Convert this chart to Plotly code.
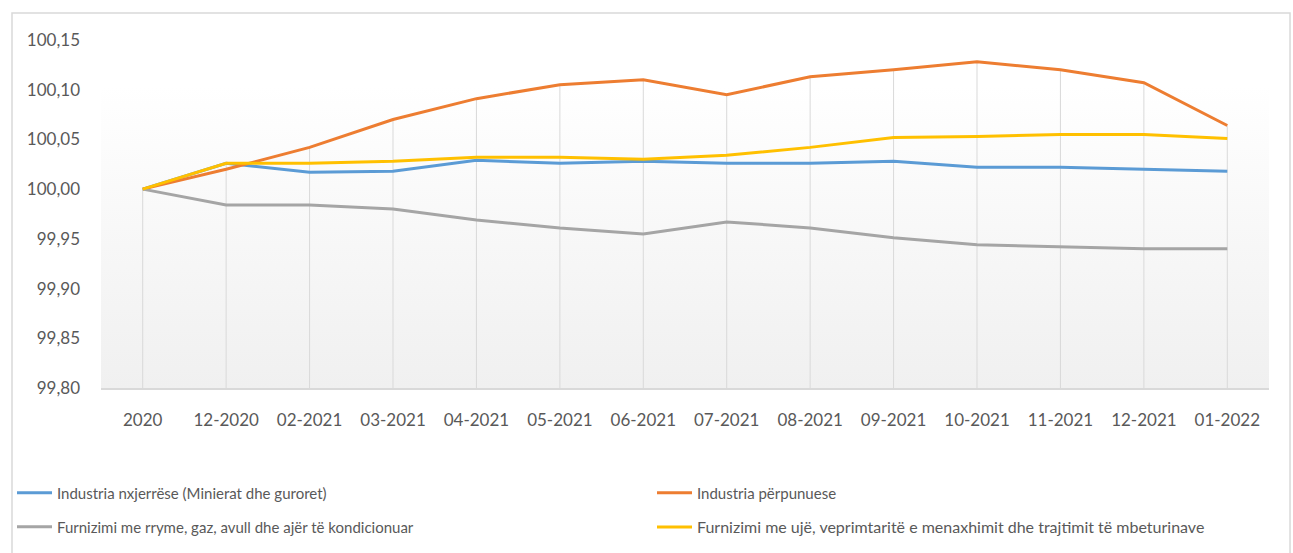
import base64
import plotly.graph_objects as go

categories = ["2020", "12-2020", "02-2021", "03-2021", "04-2021", "05-2021", "06-2021",
              "07-2021", "08-2021", "09-2021", "10-2021", "11-2021", "12-2021", "01-2022"]

names = [
    "Industria nxjerrëse (Minierat dhe guroret)",
    "Industria përpunuese",
    "Furnizimi me rryme, gaz, avull dhe ajër të kondicionuar",
    "Furnizimi me ujë, veprimtaritë e menaxhimit dhe trajtimit të mbeturinave",
]

nxjerrese = [100.000, 100.026, 100.017, 100.018, 100.029, 100.026, 100.028,
             100.026, 100.026, 100.028, 100.022, 100.022, 100.020, 100.018]
perpunuese = [100.000, 100.020, 100.042, 100.070, 100.091, 100.105, 100.110,
              100.095, 100.113, 100.120, 100.128, 100.120, 100.107, 100.064]
energji = [100.000, 99.984, 99.984, 99.980, 99.969, 99.961, 99.955,
           99.967, 99.961, 99.951, 99.944, 99.942, 99.940, 99.940]
uje = [100.000, 100.026, 100.026, 100.028, 100.032, 100.032, 100.030,
       100.034, 100.042, 100.052, 100.053, 100.055, 100.055, 100.051]

series = [nxjerrese, perpunuese, energji, uje]
colors = ["#5B9BD5", "#ED7D31", "#A5A5A5", "#FFC000"]

y_ticks = [99.80, 99.85, 99.90, 99.95, 100.00, 100.05, 100.10, 100.15]
y_min, y_max = 99.80, 100.15

FONT = "Lato, Carlito, Calibri, sans-serif"
TXT = "#595959"
W, H = 1293, 553

fig = go.Figure()

# drop lines (from highest series value down to the axis)
tops = [max(vals) for vals in zip(*series)]
fig.add_trace(go.Scatter(
    x=categories, y=tops, mode="markers", marker=dict(size=1, opacity=0),
    error_y=dict(type="data", symmetric=False, array=[0] * len(tops),
                 arrayminus=[t - y_min for t in tops], width=0,
                 color="#D9D9D9", thickness=1),
    showlegend=False, hoverinfo="skip"))

legend_ids = ["legend", "legend2", "legend3", "legend4"]
for name, vals, col, lg in zip(names, series, colors, legend_ids):
    fig.add_trace(go.Scatter(x=categories, y=vals, mode="lines", name=name,
                             line=dict(color=col, width=3), legend=lg))

# gradient background of plot area
svg = ('<svg xmlns="http://www.w3.org/2000/svg" width="100" height="100" preserveAspectRatio="none">'
       '<defs><linearGradient id="g" x1="0" y1="0" x2="0" y2="1">'
       '<stop offset="0" stop-color="#FFFFFF"/><stop offset="1" stop-color="#F0F0F0"/>'
       '</linearGradient></defs><rect width="100" height="100" fill="url(#g)"/></svg>')
uri = "data:image/svg+xml;base64," + base64.b64encode(svg.encode()).decode()
fig.add_layout_image(dict(source=uri, xref="paper", yref="paper", x=0, y=0.871,
                          sizex=1, sizey=0.871, xanchor="left", yanchor="top",
                          sizing="stretch", layer="below"))

# chart border
fig.add_shape(type="rect", xref="paper", yref="paper", x0=-0.0762, x1=1.0180,
              y0=-0.6, y1=1.0776, line=dict(color="#D9D9D9", width=1.5),
              fillcolor="rgba(0,0,0,0)", layer="below")

def leg(px, py, size=15):
    return dict(orientation="h", xref="container", yref="container",
                x=px / W, xanchor="left", y=1 - py / H, yanchor="middle",
                font=dict(family=FONT, size=size, color=TXT),
                bgcolor="rgba(0,0,0,0)", itemwidth=35)

fig.update_layout(
    width=W, height=H,
    margin=dict(l=101, r=24, t=40, b=165),
    paper_bgcolor="white", plot_bgcolor="rgba(0,0,0,0)",
    font=dict(family=FONT, color=TXT, size=17),
    showlegend=True,
    legend=leg(12, 493),
    legend2=leg(652, 493),
    legend3=leg(12, 527),
    legend4=leg(652, 527, 16),
    xaxis=dict(type="category", range=[-0.5, len(categories) - 0.5],
               showgrid=False, showline=True, linecolor="#D9D9D9", linewidth=1.5,
               ticks="", ticklabelstandoff=16, tickfont=dict(size=17), zeroline=False),
    yaxis=dict(range=[y_min, y_max], tickvals=y_ticks,
               ticktext=[f"{v:.2f}".replace(".", ",") for v in y_ticks],
               showgrid=False, showline=False, zeroline=False, ticks="",
               ticklabelstandoff=20, tickfont=dict(size=17)),
)

fig.write_html("out.html", config={"displayModeBar": False},
               post_script="document.body.style.margin='0';")
